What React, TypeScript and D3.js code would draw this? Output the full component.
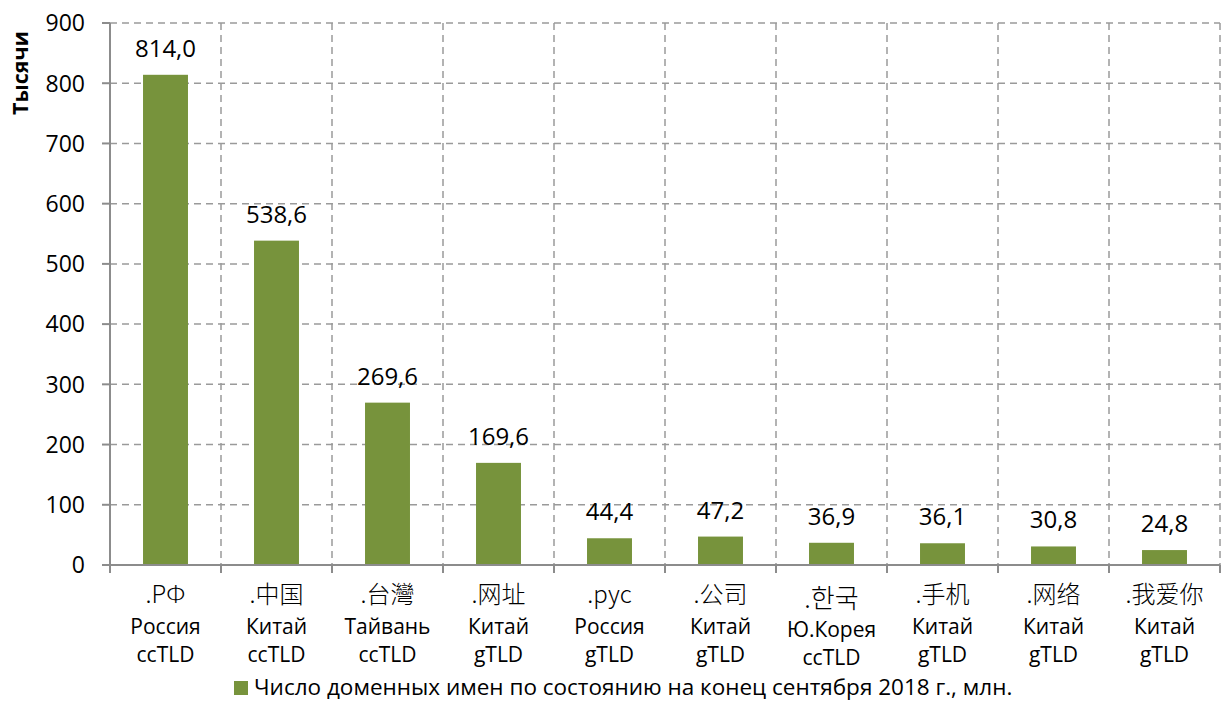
import React from "react";
import * as d3 from "d3";

const WIDTH = 1224;
const HEIGHT = 702;
const MARGIN = { top: 23, right: 4, bottom: 137, left: 110 };

const TLD_NAMES = [".РФ", ".中国", ".台灣", ".网址", ".рус", ".公司", ".한국", ".手机", ".网络", ".我爱你"];
const COUNTRIES = ["Россия", "Китай", "Тайвань", "Китай", "Россия", "Китай", "Ю.Корея", "Китай", "Китай", "Китай"];
const TLD_TYPES = ["ccTLD", "ccTLD", "ccTLD", "gTLD", "gTLD", "gTLD", "ccTLD", "gTLD", "gTLD", "gTLD"];
const VALUES = [814.0, 538.6, 269.6, 169.6, 44.4, 47.2, 36.9, 36.1, 30.8, 24.8];
const Y_TICKS = [0, 100, 200, 300, 400, 500, 600, 700, 800, 900];

const BAR_COLOR = "#77933C";
const AXIS_COLOR = "#8c8c8c";
const GRID_COLOR = "#9a9a9a";
const FONT = "'Open Sans', 'Noto Sans', sans-serif";
const CJK_FONT = "'Noto Sans CJK SC', 'Noto Sans CJK KR', sans-serif";

const fmt = (v: number) => v.toFixed(1).replace(".", ",");

export default function App() {
  const x0 = MARGIN.left;
  const x1 = WIDTH - MARGIN.right;
  const y0 = HEIGHT - MARGIN.bottom;
  const yTop = MARGIN.top;

  const x = d3
    .scaleBand<number>()
    .domain(VALUES.map((_, i) => i))
    .range([x0, x1])
    .paddingInner(0.595)
    .paddingOuter(0.2975);
  const y = d3.scaleLinear().domain([0, 900]).range([y0, yTop]);

  const step = (x1 - x0) / VALUES.length;
  const boundaries = d3.range(VALUES.length + 1).map((i) => x0 + i * step);

  return (
    <svg
      width={WIDTH}
      height={HEIGHT}
      style={{ position: "absolute", left: 0, top: 0, background: "#fff" }}
    >
      {/* horizontal grid */}
      {Y_TICKS.filter((t) => t > 0).map((t) => (
        <line
          key={"h" + t}
          x1={x0}
          x2={x1}
          y1={y(t)}
          y2={y(t)}
          stroke={GRID_COLOR}
          strokeWidth={1.5}
          strokeDasharray="7,5"
        />
      ))}
      {/* vertical grid */}
      {boundaries.slice(1).map((bx, i) => (
        <line
          key={"v" + i}
          x1={bx}
          x2={bx}
          y1={yTop}
          y2={y0}
          stroke={GRID_COLOR}
          strokeWidth={1.5}
          strokeDasharray="7,5"
        />
      ))}

      {/* bars */}
      {VALUES.map((v, i) => (
        <rect
          key={"b" + i}
          x={x(i)}
          y={y(v)}
          width={x.bandwidth()}
          height={y0 - y(v)}
          fill={BAR_COLOR}
        />
      ))}

      {/* data labels */}
      {VALUES.map((v, i) => (
        <text
          key={"l" + i}
          x={(x(i) as number) + x.bandwidth() / 2}
          y={y(v) - 18}
          textAnchor="middle"
          style={{ fontFamily: FONT, fontSize: 24, fill: "#000" }}
        >
          {fmt(v)}
        </text>
      ))}

      {/* axes */}
      <line x1={x0} x2={x0} y1={yTop} y2={y0} stroke={AXIS_COLOR} strokeWidth={2} />
      <line x1={x0} x2={x1} y1={y0} y2={y0} stroke={AXIS_COLOR} strokeWidth={2} />
      {Y_TICKS.map((t) => (
        <g key={"t" + t}>
          <line x1={x0 - 8} x2={x0} y1={y(t)} y2={y(t)} stroke={AXIS_COLOR} strokeWidth={2} />
          <text
            x={85}
            y={y(t)}
            dy="0.36em"
            textAnchor="end"
            style={{ fontFamily: FONT, fontSize: 23, fill: "#000" }}
          >
            {t}
          </text>
        </g>
      ))}
      {boundaries.map((bx, i) => (
        <line key={"xt" + i} x1={bx} x2={bx} y1={y0} y2={y0 + 8} stroke={AXIS_COLOR} strokeWidth={2} />
      ))}

      {/* y axis title */}
      <text
        transform="translate(28,73) rotate(-90)"
        textAnchor="middle"
        style={{ fontFamily: FONT, fontSize: 21.5, fontWeight: 700, fill: "#000" }}
      >
        Тысячи
      </text>

      {/* category labels */}
      {VALUES.map((_, i) => {
        const cx = (x(i) as number) + x.bandwidth() / 2;
        const shift = TLD_NAMES[i] === ".한국" ? 3 : 0;
        return (
          <g key={"c" + i} style={{ fontSize: 21, fill: "#000" }}>
            <text
              x={cx}
              y={603 + shift + (shift ? 2 : 0)}
              textAnchor="middle"
              style={{ fontFamily: CJK_FONT, fontWeight: 300, fontSize: shift ? 26 : 24 }}
            >
              {TLD_NAMES[i]}
            </text>
            <text x={cx} y={634 + shift} textAnchor="middle" style={{ fontFamily: FONT }}>
              {COUNTRIES[i]}
            </text>
            <text x={cx} y={662 + shift} textAnchor="middle" style={{ fontFamily: FONT }}>
              {TLD_TYPES[i]}
            </text>
          </g>
        );
      })}

      {/* legend */}
      <rect x={234} y={681} width={14} height={14} fill={BAR_COLOR} />
      <text x={254} y={695} style={{ fontFamily: FONT, fontSize: 22.5, fill: "#000" }}>
        Число доменных имен по состоянию на конец сентября 2018 г., млн.
      </text>
    </svg>
  );
}
